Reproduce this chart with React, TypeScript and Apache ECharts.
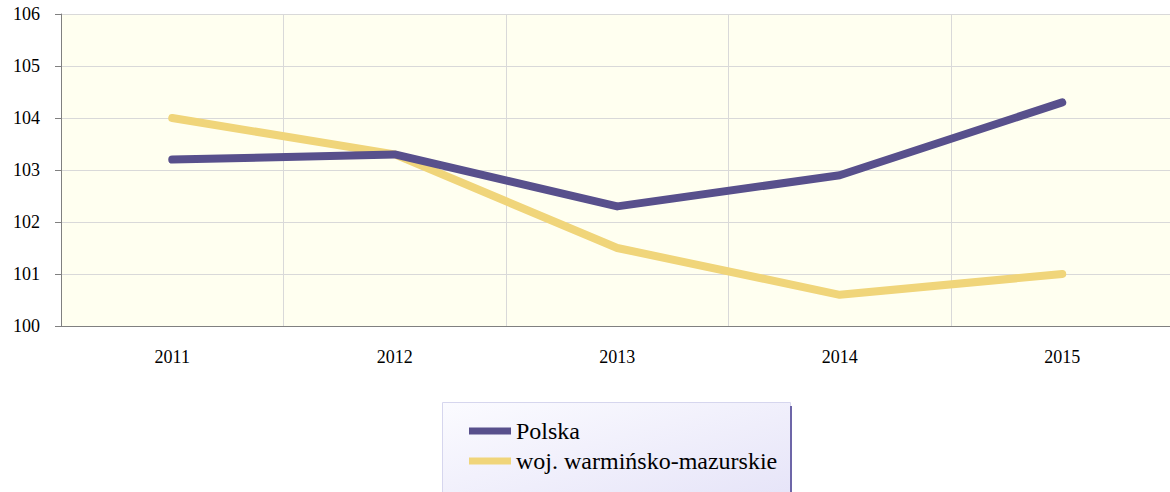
import React, { useEffect, useRef } from "react";
import * as echarts from "echarts";

const years = ["2011", "2012", "2013", "2014", "2015"];
const polska = [103.2, 103.3, 102.3, 102.9, 104.3];
const warmMaz = [104.0, 103.3, 101.5, 100.6, 101.0];
const seriesNames = ["Polska", "woj. warmińsko-mazurskie"];

export default function App() {
  const ref = useRef<HTMLDivElement>(null);
  useEffect(() => {
    if (!ref.current) return;
    const chart = echarts.init(ref.current, null, { renderer: "svg" });
    const serif = "Liberation Serif";
    chart.setOption({
      animation: false,
      backgroundColor: "#ffffff",
      textStyle: { fontFamily: serif },
      grid: {
        left: 61,
        top: 14,
        width: 1112.5,
        height: 312,
        show: true,
        backgroundColor: "#fffff0",
        borderWidth: 0,
        containLabel: false,
        outerBoundsMode: "none",
      },
      xAxis: {
        type: "category",
        data: years,
        boundaryGap: true,
        axisLine: { show: true, lineStyle: { color: "#808080", width: 1 } },
        axisTick: { show: false },
        axisLabel: { color: "#000", fontFamily: serif, fontSize: 18, margin: 22 },
        splitLine: { show: true, interval: 0, lineStyle: { color: "#d9d9d9", width: 1 } },
      },
      yAxis: {
        type: "value",
        min: 100,
        max: 106,
        interval: 1,
        axisLine: { show: true, lineStyle: { color: "#808080", width: 1 } },
        axisTick: { show: true, length: 6, lineStyle: { color: "#808080" } },
        axisLabel: { color: "#000", fontFamily: serif, fontSize: 18, margin: 21 },
        splitLine: { show: true, lineStyle: { color: "#d9d9d9", width: 1 } },
      },
      legend: {
        orient: "vertical",
        left: 464,
        top: 414,
        itemWidth: 42,
        itemHeight: 7,
        itemGap: 6,
        itemTextGap: 5,
        icon: "rect",
        textStyle: { color: "#000", fontFamily: serif, fontSize: 24, lineHeight: 24 },
        data: seriesNames,
      },
      graphic: [
        {
          type: "rect",
          z: -1,
          shape: { x: 442.5, y: 402.5, width: 348, height: 95 },
          style: {
            fill: new echarts.graphic.LinearGradient(0, 0, 1, 1, [
              { offset: 0, color: "#fbfbff" },
              { offset: 1, color: "#e6e4f8" },
            ]),
            stroke: "#d6d6ee",
            lineWidth: 1,
          },
        },
        {
          type: "line",
          z: -1,
          shape: { x1: 791, y1: 406, x2: 791, y2: 492 },
          style: { stroke: "#6d66a8", lineWidth: 2 },
        },
      ],
      series: [
        {
          name: seriesNames[0],
          type: "line",
          data: polska,
          symbol: "none",
          lineStyle: { color: "#58508c", width: 8, cap: "round", join: "round" },
          itemStyle: { color: "#58508c" },
          z: 3,
        },
        {
          name: seriesNames[1],
          type: "line",
          data: warmMaz,
          symbol: "none",
          lineStyle: { color: "#f0d57a", width: 8, cap: "round", join: "round" },
          itemStyle: { color: "#f0d57a" },
          z: 2,
        },
      ],
    });
    return () => chart.dispose();
  }, []);
  return (
    <div
      ref={ref}
      style={{ position: "fixed", left: 0, top: 0, width: 1170, height: 492 }}
    />
  );
}
